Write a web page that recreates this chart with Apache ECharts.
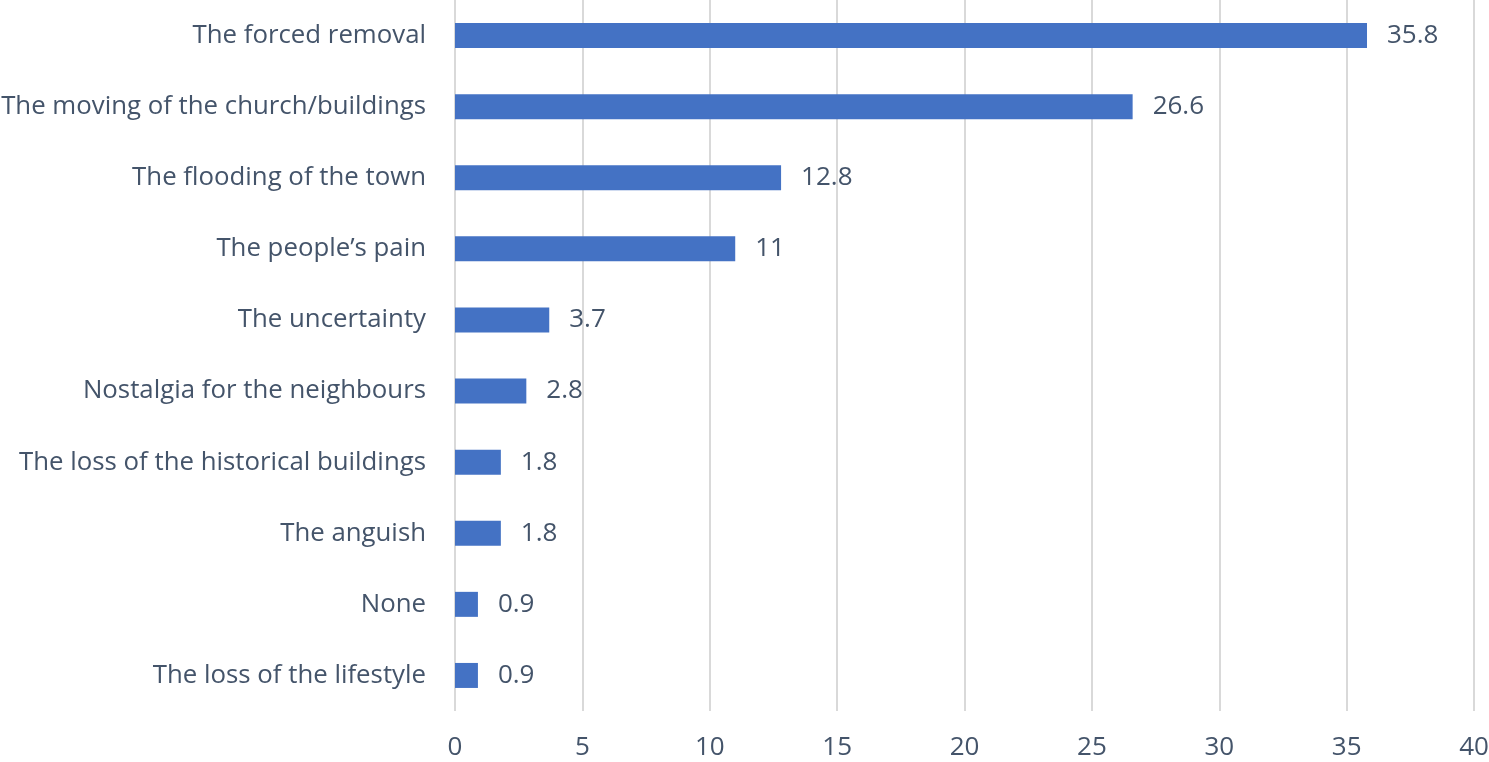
<!DOCTYPE html>
<html><head><meta charset="utf-8">
<script src="https://cdn.jsdelivr.net/npm/echarts@6/dist/echarts.min.js"></script>
<style>html,body{margin:0;padding:0;background:#fff}#c{width:1489px;height:762px}</style>
</head><body><div id="c"></div>
<script>
var categories = ["The forced removal","The moving of the church/buildings","The flooding of the town","The people\u2019s pain","The uncertainty","Nostalgia for the neighbours","The loss of the historical buildings","The anguish","None","The loss of the lifestyle"];
var values = [35.8,26.6,12.8,11,3.7,2.8,1.8,1.8,0.9,0.9];
var xTicks = [0,5,10,15,20,25,30,35,40];
var font = "Open Sans";
var txt = "#44546A";
var chart = echarts.init(document.getElementById('c'));
chart.setOption({
  animation:false,
  grid:{left:455,right:15,top:0,bottom:51,containLabel:false,outerBoundsMode:'none'},
  xAxis:{type:'value',min:xTicks[0],max:xTicks[xTicks.length-1],interval:5,
    axisLine:{show:false},axisTick:{show:false},
    splitLine:{lineStyle:{color:'#D9D9D9',width:2}},
    axisLabel:{color:txt,fontFamily:font,fontSize:26,margin:24}},
  yAxis:{type:'category',data:categories,inverse:true,
    axisLine:{show:false},axisTick:{show:false},
    axisLabel:{color:txt,fontFamily:font,fontSize:25.8,margin:29,padding:[3,0,0,0]}},
  series:[{type:'bar',data:values,barWidth:25,
    itemStyle:{color:'#4472C4'},
    label:{show:true,position:'right',distance:20,color:txt,fontFamily:font,fontSize:26,padding:[3,0,0,0]}}]
});
</script></body></html>
